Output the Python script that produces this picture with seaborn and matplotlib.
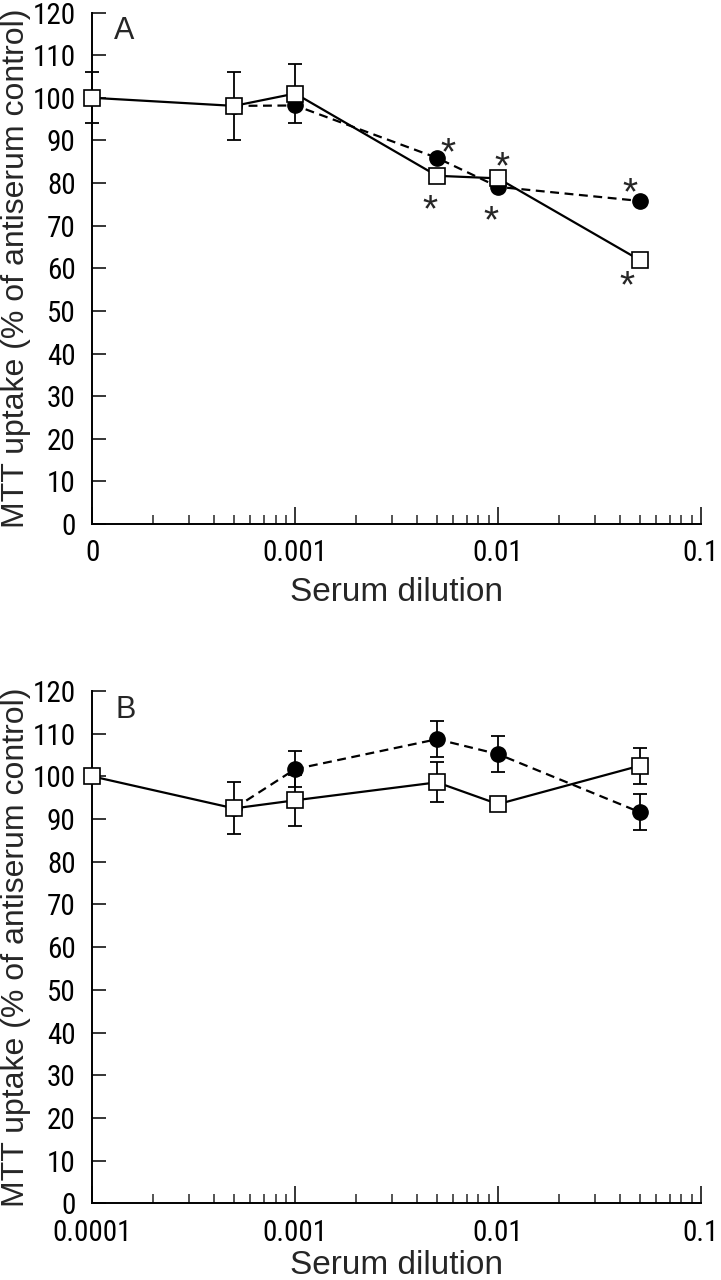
import numpy as np
import pandas as pd
import matplotlib
matplotlib.use("Agg")
import matplotlib.pyplot as plt
import matplotlib.transforms as mtransforms
from matplotlib import font_manager as fm
from matplotlib.ticker import FixedLocator, LogLocator, NullFormatter
import seaborn as sns

# ---------------- data ----------------
dilution = [1e-4, 5e-4, 1e-3, 5e-3, 1e-2, 5e-2]
circle_dilution = [5e-4, 1e-3, 5e-3, 1e-2, 5e-2]

a_square = [100.0, 98.1, 101.0, 81.7, 81.1, 61.9]
a_square_err = [6.0, 8.0, 7.0, np.nan, np.nan, np.nan]
a_circle = [98.1, 98.2, 85.9, 79.1, 75.8]
a_circle_err = [np.nan, np.nan, np.nan, np.nan, np.nan]

b_square = [100.0, 92.5, 94.4, 98.6, 93.5, 102.5]
b_square_err = [np.nan, 6.1, 6.0, 4.7, np.nan, 4.2]
b_circle = [92.5, 101.7, 108.7, 105.2, 91.6]
b_circle_err = [np.nan, 4.2, 4.2, 4.2, 4.2]

a_star_x = [5.64e-3, 4.6e-3, 1.04e-2, 9.27e-3, 4.46e-2, 4.33e-2]
a_star_y = [89.7, 76.2, 86.3, 73.8, 80.3, 58.4]
b_star_x = []
b_star_y = []

y_ticks = [0, 10, 20, 30, 40, 50, 60, 70, 80, 90, 100, 110, 120]
x_ticks = [1e-4, 1e-3, 1e-2, 1e-1]
a_xticklabels = ["0", "0.001", "0.01", "0.1"]
b_xticklabels = ["0.0001", "0.001", "0.01", "0.1"]
panel_labels = ["A", "B"]
x_label = "Serum dilution"
y_label = "MTT uptake (% of antiserum control)"

# ---------------- style ----------------
sns.set_style("ticks")
plt.rcParams["font.family"] = ["Liberation Sans", "DejaVu Sans"]
LABEL_FONT = ["Liberation Sans", "DejaVu Sans"]

avail = {f.name for f in fm.fontManager.ttflist}
narrow = None
for n in ["Liberation Sans Narrow", "Arial Narrow", "Roboto Condensed",
          "Open Sans Condensed", "Noto Sans Condensed"]:
    if n in avail:
        narrow = n
        break
if narrow:
    TICK_FONT = [narrow, "Liberation Sans", "DejaVu Sans"]
    TICK_SIZE = 21
else:
    TICK_FONT = ["Liberation Sans", "DejaVu Sans"]
    TICK_SIZE = 19.5

fig = plt.figure(figsize=(7.21, 12.8), dpi=100)
ax_a = fig.add_axes([0.128, 0.5906, 0.8443, 0.3996])
ax_b = fig.add_axes([0.128, 0.0598, 0.8443, 0.4004])


def draw_panel(ax, sq, sq_err, ci, ci_err, star_x, star_y, xticklabels,
               label, label_x, xlabel_y):
    sq = np.asarray(sq, float)
    sq_err = np.asarray(sq_err, float)
    ci = np.asarray(ci, float)
    ci_err = np.asarray(ci_err, float)
    dx = np.asarray(dilution, float)
    cdx = np.asarray(circle_dilution, float)

    # error bars (below markers)
    for xx, yy, ee in ((cdx, ci, ci_err), (dx, sq, sq_err)):
        m = ~np.isnan(ee)
        if m.any():
            ax.errorbar(xx[m], yy[m], yerr=ee[m], fmt="none", ecolor="black",
                        elinewidth=1.3, capsize=5, capthick=1.3, zorder=2,
                        clip_on=False)

    # filled circles, dashed line
    sns.lineplot(x=cdx, y=ci, ax=ax, color="black", linewidth=1.6,
                 linestyle=(0, (4, 2.5)), marker="o", markersize=11,
                 markerfacecolor="black", markeredgecolor="black",
                 markeredgewidth=1.0, estimator=None, sort=False,
                 errorbar=None, zorder=3, clip_on=False)
    # open squares, solid line
    sns.lineplot(x=dx, y=sq, ax=ax, color="black", linewidth=1.6,
                 linestyle="-", marker="s", markersize=11,
                 markerfacecolor="white", markeredgecolor="black",
                 markeredgewidth=1.2, estimator=None, sort=False,
                 errorbar=None, zorder=4, clip_on=False)

    # significance asterisks
    fs = 28
    off = mtransforms.offset_copy(ax.transData, fig=fig, y=-0.58 * fs,
                                  units="points")
    for sx, sy in zip(star_x, star_y):
        ax.text(sx, sy, "*", transform=off, ha="center", va="baseline",
                fontsize=fs, family=LABEL_FONT, zorder=5)

    ax.set_xscale("log")
    ax.set_xlim(1e-4, 1e-1)
    ax.set_ylim(0, 120)
    ax.xaxis.set_major_locator(FixedLocator(x_ticks))
    ax.set_xticklabels(xticklabels)
    ax.xaxis.set_minor_locator(LogLocator(base=10, subs=np.arange(2, 10)))
    ax.xaxis.set_minor_formatter(NullFormatter())
    ax.set_yticks(y_ticks)
    ax.set_yticklabels([str(v) for v in y_ticks])

    ax.tick_params(axis="y", direction="in", length=10, width=1.1, pad=12,
                   labelsize=TICK_SIZE, colors="black")
    ax.tick_params(axis="x", which="major", direction="in", length=12,
                   width=1.1, pad=11, labelsize=TICK_SIZE, colors="black")
    ax.tick_params(axis="x", which="minor", direction="in", length=6.5,
                   width=1.1)
    for t in ax.get_xticklabels() + ax.get_yticklabels():
        t.set_family(TICK_FONT)

    sns.despine(ax=ax)
    for s in ("left", "bottom"):
        ax.spines[s].set_linewidth(1.4)
        ax.spines[s].set_color("black")

    ax.set_xlabel(x_label, fontsize=24, family=LABEL_FONT)
    ax.set_ylabel(y_label, fontsize=23, family=LABEL_FONT)
    ax.xaxis.set_label_coords(0.5, xlabel_y)
    ax.yaxis.set_label_coords(-0.1007, 0.5)
    ax.text(label_x, 0.993, label, transform=ax.transAxes, ha="left",
            va="top", fontsize=22, family=LABEL_FONT)
    ax.grid(False)


draw_panel(ax_a, a_square, a_square_err, a_circle, a_circle_err,
           a_star_x, a_star_y, a_xticklabels, panel_labels[0], 0.035, -0.104)
draw_panel(ax_b, b_square, b_square_err, b_circle, b_circle_err,
           b_star_x, b_star_y, b_xticklabels, panel_labels[1], 0.038, -0.090)

fig.savefig("out.png", dpi=100, facecolor="white")
